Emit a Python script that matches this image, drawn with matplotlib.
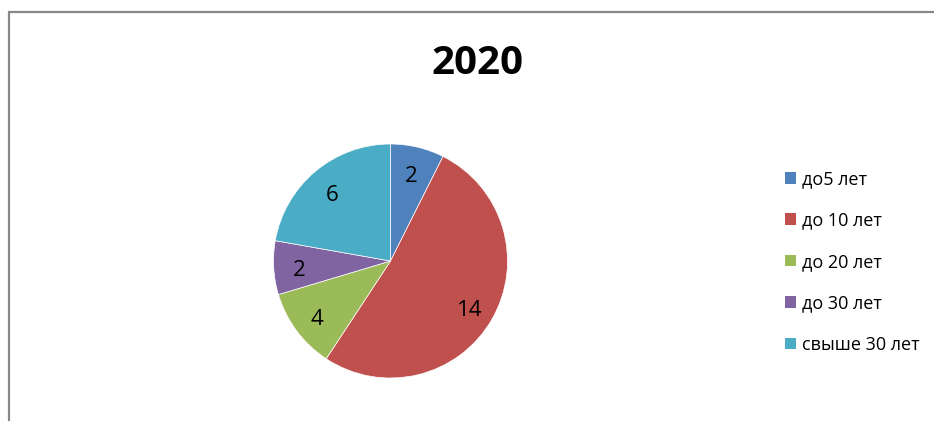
import matplotlib
matplotlib.use("Agg")
import matplotlib.pyplot as plt
from matplotlib.patches import Rectangle, Patch
from matplotlib.transforms import offset_copy

plt.rcParams['font.family'] = ['Open Sans', 'DejaVu Sans']

title = "2020"
categories = ["до5 лет", "до 10 лет", "до 20 лет", "до 30 лет", "свыше 30 лет"]
values = [2, 14, 3, 2, 6]
# data labels as printed on the chart
data_labels = ["2", "14", "4", "2", "6"]
colors = ["#4F81BD", "#C0504D", "#9BBB59", "#8064A2", "#4BACC6"]

W, H = 934, 421
fig = plt.figure(figsize=(W / 100, H / 100), dpi=100)

# outer chart border (partially visible)
fig.patches.append(Rectangle((9 / W, -0.2), 2.0, (H - 11.5) / H + 0.2,
                             transform=fig.transFigure, fill=False,
                             edgecolor="#888888", linewidth=1.6))

cx, cy, r = 390.5, 261, 117
ax = fig.add_axes([(cx - r) / W, (H - cy - r) / H, 2 * r / W, 2 * r / H])
wedges, texts = ax.pie(
    values, colors=colors, startangle=90, counterclock=False,
    radius=1.0, labels=data_labels, labeldistance=0.78,
    wedgeprops=dict(edgecolor="white", linewidth=0.5),
    textprops=dict(fontsize=16, color="black"))
for t in texts:
    t.set_ha("center")
    t.set_va("center")
    t.set_transform(offset_copy(ax.transData, fig=fig, x=0, y=-3, units="points"))
ax.set_xlim(-1, 1)
ax.set_ylim(-1, 1)
ax.set_aspect("equal")
ax.axis("off")

fig.text(477 / W, 1 - 64 / H, title, ha="center", va="center",
         fontsize=29, fontweight="bold")

handles = [Patch(facecolor=c, edgecolor="none") for c in colors]
fig.legend(handles, categories, loc="upper left",
           bbox_to_anchor=(776 / W, 1 - 161 / H), frameon=False,
           fontsize=13, handlelength=0.62, handleheight=0.62,
           handletextpad=0.3, labelspacing=1.3, borderpad=0)

fig.savefig("out.png", dpi=100)
